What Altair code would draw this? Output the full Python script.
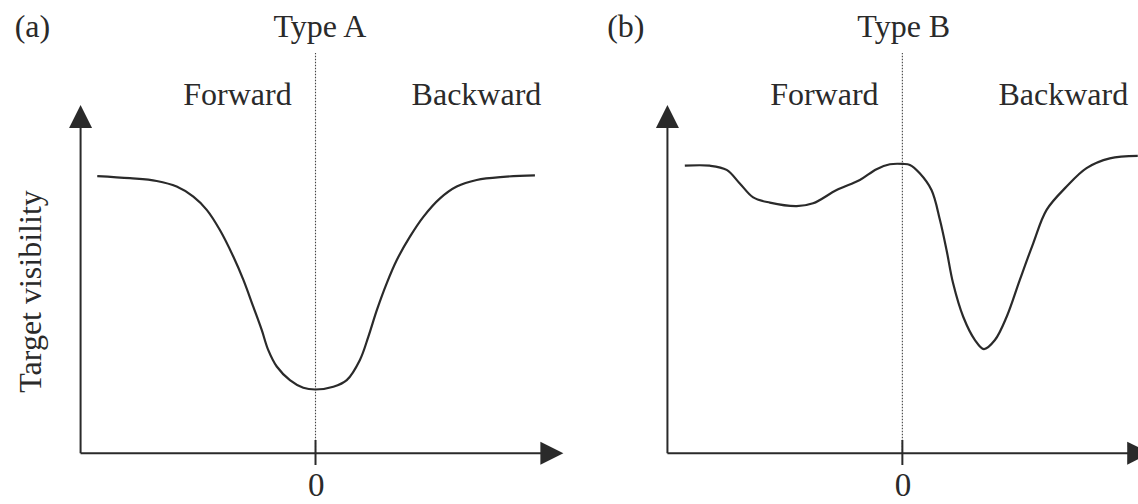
import altair as alt
import pandas as pd

# Target onset asynchrony (arbitrary units; negative = mask before target)
# and relative target visibility for the two masking function types.
a_soa = [-92.9, -79.0, -67.6, -59.1, -52.0, -46.3, -40.7, -35.0, -30.7, -26.5,
         -22.9, -20.1, -16.5, -10.9, -5.2, 0.0, 7.6, 13.3, 18.9, 22.5,
         26.1, 30.3, 34.6, 40.2, 45.9, 53.0, 60.1, 68.6, 80.0, 93.4]
a_vis = [0.796, 0.790, 0.782, 0.766, 0.737, 0.699, 0.641, 0.565, 0.498, 0.421,
         0.354, 0.296, 0.249, 0.210, 0.188, 0.183, 0.191, 0.210, 0.268, 0.335,
         0.411, 0.488, 0.555, 0.622, 0.679, 0.732, 0.766, 0.785, 0.794, 0.798]

b_soa = [-92.6, -82.0, -74.8, -69.2, -63.5, -56.4, -45.0, -38.0, -28.0, -18.1,
         -11.0, -5.3, 0.3, 3.2, 7.4, 12.4, 16.0, 18.8, 21.6, 25.9,
         30.9, 34.7, 39.4, 44.4, 50.0, 55.7, 61.4, 69.9, 78.4, 88.3, 100.2]
b_vis = [0.826, 0.826, 0.814, 0.775, 0.735, 0.720, 0.710, 0.718, 0.756, 0.785,
         0.816, 0.830, 0.831, 0.828, 0.804, 0.756, 0.670, 0.584, 0.488, 0.392,
         0.325, 0.299, 0.325, 0.392, 0.498, 0.603, 0.699, 0.766, 0.819, 0.847, 0.854]

panel_letters = ["(a)", "(b)"]
panel_titles = ["Type A", "Type B"]
region_labels = ["Forward", "Backward"]
y_title = "Target visibility"
zero_label = "0"

FONT = "Liberation Serif"
INK = "#2a2a2a"
Y_DOMAIN = [-0.146, 1.302]
AXIS_LEFT, AXIS_RIGHT, AXIS_TOP = -100, 105.5, 1.0

# SVG paths with the tip at the origin, so the point sits on the axis end
UP_HEAD = "M0,0L1,2L-1,2Z"
RIGHT_HEAD = "M0,0L-2,-1L-2,1Z"


def panel(soa, vis, letter, title, x_domain, letter_x, title_x, show_ytitle):
    xs = alt.Scale(domain=x_domain, nice=False, zero=False)
    ys = alt.Scale(domain=Y_DOMAIN, nice=False, zero=False)

    def xy(xf="x", yf="y"):
        return dict(x=alt.X(f"{xf}:Q", scale=xs, axis=None),
                    y=alt.Y(f"{yf}:Q", scale=ys, axis=None))

    curve = alt.Chart(pd.DataFrame({"x": soa, "y": vis})).mark_line(
        interpolate="catmull-rom", color=INK, strokeWidth=2.2, clip=True
    ).encode(**xy())

    axes_df = pd.DataFrame({
        "x": [AXIS_LEFT, AXIS_LEFT, 0.0],
        "x2": [AXIS_LEFT, AXIS_RIGHT - 3, 0.0],
        "y": [0.0, 0.0, -0.034],
        "y2": [AXIS_TOP - 0.03, 0.0, 0.038],
    })
    axes = alt.Chart(axes_df).mark_rule(color=INK, strokeWidth=2, clip=True).encode(
        **xy(), x2="x2:Q", y2="y2:Q"
    )

    divider = alt.Chart(pd.DataFrame({"x": [0.0], "y": [0.0], "y2": [1.15]})).mark_rule(
        color="#444444", strokeWidth=1.1, strokeDash=[1.5, 1.5]
    ).encode(**xy(), y2="y2:Q")

    up = alt.Chart(pd.DataFrame({"x": [AXIS_LEFT], "y": [AXIS_TOP]})).mark_point(
        shape=UP_HEAD, size=529, filled=True, opacity=1, color=INK, strokeWidth=0
    ).encode(**xy())
    right = alt.Chart(pd.DataFrame({"x": [AXIS_RIGHT], "y": [0.0]})).mark_point(
        shape=RIGHT_HEAD, size=529, filled=True, opacity=1, color=INK, strokeWidth=0,
        clip=True
    ).encode(**xy())

    labels_df = pd.DataFrame({
        "x": [letter_x, title_x, -33.2, 68.5],
        "y": [1.1957, 1.1957, 1.0, 1.0],
        "t": [letter, title, region_labels[0], region_labels[1]],
    })
    labels = alt.Chart(labels_df).mark_text(
        font=FONT, fontSize=32, color=INK, align="center", baseline="alphabetic"
    ).encode(**xy(), text="t:N")

    zero = alt.Chart(pd.DataFrame({"x": [0.3], "y": [-0.143], "t": [zero_label]})).mark_text(
        font=FONT, fontSize=33, color=INK, align="center", baseline="bottom"
    ).encode(**xy(), text="t:N")

    layers = [divider, curve, axes, up, right, labels, zero]
    if show_ytitle:
        ytitle = alt.Chart(pd.DataFrame({"x": [-116.9], "y": [0.4646], "t": [y_title]})).mark_text(
            font=FONT, fontSize=32, color=INK, align="center", baseline="alphabetic", angle=270
        ).encode(**xy(), text="t:N")
        layers.append(ytitle)

    return alt.layer(*layers).properties(width=569, height=504)


left = panel(a_soa, a_vis, panel_letters[0], panel_titles[0],
             [-134.3, 107.9], -120.5, 1.9, True)
right_panel = panel(b_soa, b_vis, panel_letters[1], panel_titles[1],
                    [-141.9, 100.3], -117.7, 0.6, False)

chart = alt.hconcat(left, right_panel, spacing=0).properties(
    padding=0, background="white"
).configure_view(stroke=None)

chart.save("out.html", embed_options={"renderer": "svg", "actions": False})
